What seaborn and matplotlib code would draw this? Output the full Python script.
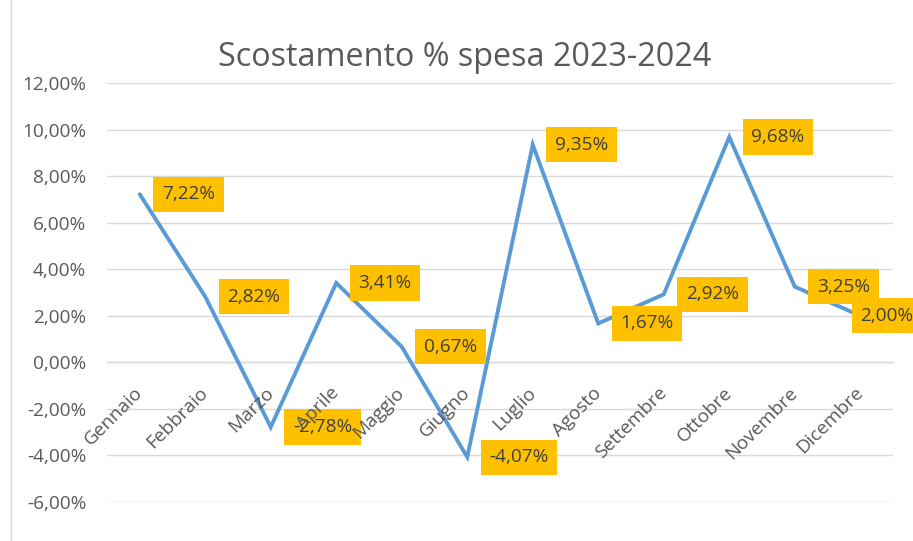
import matplotlib
matplotlib.use("Agg")
import matplotlib.pyplot as plt
from matplotlib.ticker import FuncFormatter, MultipleLocator
from matplotlib.lines import Line2D
import seaborn as sns
import pandas as pd

months = ["Gennaio", "Febbraio", "Marzo", "Aprile", "Maggio", "Giugno",
          "Luglio", "Agosto", "Settembre", "Ottobre", "Novembre", "Dicembre"]
values = [7.22, 2.82, -2.78, 3.41, 0.67, -4.07, 9.35, 1.67, 2.92, 9.68, 3.25, 2.00]
title = "Scostamento % spesa 2023-2024"

df = pd.DataFrame({"mese": months, "valore": values})

sns.set_theme(style="white")
plt.rcParams["font.family"] = ["Open Sans", "DejaVu Sans"]

fig = plt.figure(figsize=(9.13, 5.41), dpi=100)
ax = fig.add_axes([107/913, 1 - 502/541, (893 - 107)/913, (502 - 83)/541])

sns.lineplot(data=df, x="mese", y="valore", ax=ax, color="#5B9BD5",
             linewidth=2.8, sort=False, solid_joinstyle="miter")

ax.set_xlim(-0.5, len(months) - 0.5)
ax.set_ylim(-6, 12)
ax.yaxis.set_major_locator(MultipleLocator(2))
ax.yaxis.set_major_formatter(FuncFormatter(lambda v, p: f"{v:.2f}".replace(".", ",") + "%"))
ax.grid(axis="y", color="#D9D9D9", linewidth=1)
ax.set_axisbelow(True)
ax.xaxis.set_zorder(6)
for s in ["top", "right", "left"]:
    ax.spines[s].set_visible(False)
ax.spines["bottom"].set_position(("data", 0))
ax.spines["bottom"].set_color("#D9D9D9")
ax.spines["bottom"].set_linewidth(1)
ax.spines["bottom"].set_zorder(0.5)
ax.set_xlabel("")
ax.set_ylabel("")
ax.tick_params(axis="y", length=0, pad=15, labelsize=13.7, labelcolor="#595959")
ax.tick_params(axis="x", length=0, pad=20, labelsize=13.7, labelcolor="#595959")
for lbl in ax.get_xticklabels():
    lbl.set_rotation(45)
    lbl.set_ha("right")
    lbl.set_va("center")
    lbl.set_rotation_mode("anchor")

n = len(values)
for i, v in enumerate(values):
    dx = 16 if i < n - 1 else 0
    ax.annotate(f"{v:.2f}".replace(".", ",") + "%", xy=(i, v), xytext=(dx, 0),
                textcoords="offset points", ha="left", va="center",
                fontsize=13.7, color="#404040", annotation_clip=False, zorder=5,
                bbox=dict(boxstyle="square,pad=0.45", fc="#FFC000", ec="none"))

fig.text(465/913, 1 - 57/541, title, ha="center", va="center",
         fontsize=23.3, color="#595959")

fig.add_artist(Line2D([10.5/913, 10.5/913], [0, 1], color="#D9D9D9",
                      linewidth=1, transform=fig.transFigure))

fig.savefig("out.png", dpi=100)
